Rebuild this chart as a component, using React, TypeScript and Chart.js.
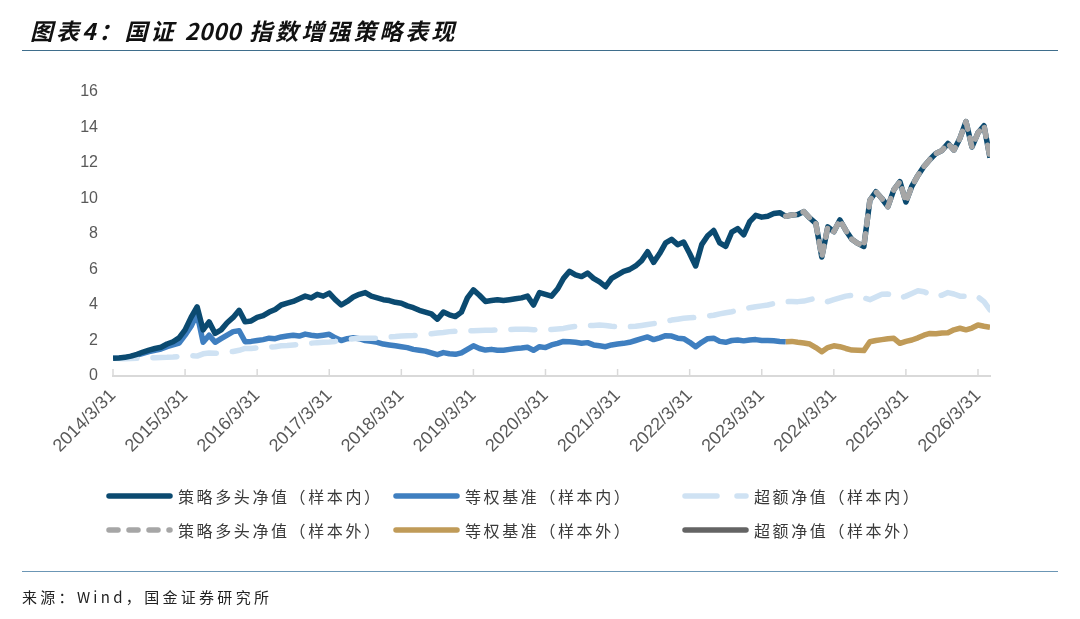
import React, { useEffect, useRef } from 'react';
import { Chart, registerables } from 'chart.js';

Chart.register(...registerables);

// months since 2014/3/31, one point per month end
const OUT_START = 112;

const strategyIn = [
  1.0, 1.02, 1.05, 1.12, 1.22, 1.35, 1.46, 1.55, 1.62, 1.8, 1.93, 2.15,
  2.6, 3.3, 3.9, 2.6, 3.05, 2.4, 2.6, 3.0, 3.3, 3.7, 3.05, 3.1,
  3.3, 3.4, 3.6, 3.75, 4.0, 4.1, 4.2, 4.35, 4.5, 4.4, 4.6, 4.5,
  4.67, 4.3, 4.0, 4.2, 4.45, 4.6, 4.7, 4.5, 4.4, 4.3, 4.25, 4.15,
  4.1, 3.95, 3.85, 3.7, 3.6, 3.5, 3.2, 3.6, 3.45, 3.35, 3.6, 4.4,
  4.85, 4.55, 4.2, 4.25, 4.3, 4.25, 4.3, 4.35, 4.4, 4.5, 4.0, 4.7,
  4.6, 4.5, 4.9, 5.5, 5.9, 5.7, 5.6, 5.8, 5.5, 5.3, 5.03, 5.5,
  5.7, 5.9, 6.0, 6.2, 6.5, 7.0, 6.4, 6.9, 7.5, 7.7, 7.4, 7.55,
  6.9, 6.2, 7.4, 7.9, 8.2, 7.5, 7.3, 8.1, 8.3, 7.95, 8.7, 9.05,
  8.95, 9.0, 9.15, 9.2,
];

const strategyOut = [
  9.0, 9.07, 9.1, 9.26, 8.9, 8.6, 6.7, 8.4, 8.13, 8.79, 8.2, 7.7,
  7.47, 7.3, 9.9, 10.38, 10.0, 9.54, 10.5, 10.95, 9.8, 10.7, 11.3, 11.8,
  12.2, 12.54, 12.7, 13.1, 12.73, 13.4, 14.33, 12.9, 13.7, 14.1, 12.3,
];

const benchIn = [
  1.0, 1.0, 1.03, 1.1, 1.18, 1.28, 1.37, 1.45, 1.52, 1.65, 1.75, 1.85,
  2.3, 2.8, 3.5, 1.9, 2.3, 1.9, 2.1, 2.3, 2.5, 2.55, 1.93, 1.95,
  2.0, 2.05, 2.13, 2.1, 2.2, 2.25, 2.3, 2.25, 2.36, 2.3, 2.25, 2.3,
  2.35, 2.15, 2.0, 2.1, 2.15, 2.1, 2.0, 1.95, 1.9, 1.8, 1.75, 1.7,
  1.65, 1.6, 1.5, 1.45, 1.4, 1.3, 1.2, 1.32, 1.25, 1.22, 1.3, 1.5,
  1.7, 1.55, 1.46, 1.5, 1.45, 1.45, 1.5, 1.55, 1.58, 1.62, 1.45, 1.65,
  1.6, 1.75, 1.84, 1.95, 1.93, 1.9, 1.85, 1.88, 1.75, 1.7, 1.65, 1.75,
  1.8, 1.84, 1.9, 2.0, 2.1, 2.2, 2.05, 2.15, 2.27, 2.25, 2.13, 2.1,
  1.9, 1.65, 1.9, 2.1, 2.13, 1.95, 1.9, 2.0, 2.03, 1.98, 2.03, 2.05,
  2.0, 2.0, 1.98, 1.95, 1.93,
];

const benchOut = [
  1.93, 1.95, 1.9, 1.86, 1.8, 1.6, 1.37, 1.6, 1.7, 1.65, 1.55, 1.46,
  1.45, 1.43, 1.93, 2.0, 2.05, 2.1, 2.12, 1.84, 1.95, 2.03, 2.15, 2.3,
  2.4, 2.38, 2.42, 2.44, 2.6, 2.69, 2.6, 2.7, 2.87, 2.8, 2.74,
];

const excessIn = [
  1.0, 0.98, 0.97, 0.98, 1.0, 1.0, 1.02, 1.03, 1.04, 1.05, 1.07, 1.1,
  1.12, 1.15, 1.12, 1.25, 1.3, 1.28, 1.3, 1.35, 1.38, 1.45, 1.55, 1.55,
  1.58, 1.6, 1.63, 1.65, 1.7, 1.72, 1.75, 1.78, 1.8, 1.85, 1.88, 1.9,
  1.92, 1.95, 2.0, 2.05, 2.1, 2.12, 2.13, 2.12, 2.13, 2.15, 2.2, 2.22,
  2.25, 2.27, 2.28, 2.3, 2.33, 2.38, 2.42, 2.45, 2.5, 2.52, 2.55, 2.55,
  2.55, 2.57, 2.58, 2.58, 2.6, 2.6, 2.62, 2.63, 2.63, 2.63, 2.6, 2.63,
  2.63, 2.62, 2.65, 2.68, 2.75, 2.8, 2.82, 2.85, 2.85, 2.87, 2.85, 2.8,
  2.78, 2.78, 2.78, 2.8, 2.85, 2.9, 2.95, 3.0, 3.08, 3.15, 3.2, 3.25,
  3.28, 3.3, 3.34, 3.38, 3.42, 3.5, 3.56, 3.62, 3.7, 3.78, 3.85, 3.9,
  3.95, 4.0, 4.08, 4.15, 4.19, 4.2, 4.19, 4.22, 4.3, 4.38, 4.3, 4.19,
  4.3, 4.4, 4.5, 4.55, 4.56, 4.4, 4.3, 4.45, 4.6, 4.62, 4.5, 4.38,
  4.5, 4.65, 4.8, 4.75, 4.6, 4.47, 4.55, 4.7, 4.62, 4.5, 4.5, 4.56,
  4.45, 4.19, 3.72,
];

// not visible in the picture, legend only
const excessOut: number[] = [];

const LAST_MONTH = 146;
const xTicks = [0, 12, 24, 36, 48, 60, 72, 84, 96, 108, 120, 132, 144];
const yTicks = [0, 2, 4, 6, 8, 10, 12, 14, 16];

const NAVY = '#0b4a70';
const BLUE = '#3f7fc0';
const LIGHT = '#cfe2f3';
const GREY = '#a6a6a6';
const GOLD = '#c09b58';
const DARK = '#646464';
const AXIS = '#d9d9d9';
const TICK_TEXT = '#595959';

const toPoints = (vals: number[], start: number) => vals.map((v, i) => ({ x: start + i, y: v }));

const innerTicks = {
  id: 'innerTicks',
  beforeDatasetsDraw(chart: any) {
    const xs = chart.scales.x;
    const ctx = chart.ctx;
    const bottom = chart.chartArea.bottom;
    ctx.save();
    ctx.strokeStyle = AXIS;
    ctx.lineWidth = 1.5;
    xs.ticks.forEach((t: any) => {
      const px = xs.getPixelForValue(t.value);
      ctx.beginPath();
      ctx.moveTo(px, bottom);
      ctx.lineTo(px, bottom - 7);
      ctx.stroke();
    });
    ctx.restore();
  },
};

const LegendItem = ({ x, y, label, kind }: { x: number; y: number; label: string; kind: string }) => {
  let line: React.ReactNode;
  if (kind === 'light') {
    line = <line x1={3} y1={4} x2={64} y2={4} stroke={LIGHT} strokeWidth={5.5} strokeLinecap="round" strokeDasharray="32 20" />;
  } else if (kind === 'grey') {
    line = <line x1={3} y1={4} x2={64} y2={4} stroke={GREY} strokeWidth={5.5} strokeLinecap="round" strokeDasharray="9 11" />;
  } else {
    line = <line x1={3} y1={4} x2={64} y2={4} stroke={kind} strokeWidth={5.5} strokeLinecap="round" />;
  }
  return (
    <div style={{ position: 'absolute', left: x, top: y - 11, height: 22, display: 'flex', alignItems: 'center' }}>
      <svg width={68} height={8} style={{ display: 'block' }}>{line}</svg>
      <span style={{ marginLeft: 4, fontSize: 16, letterSpacing: 2.6, color: '#3a3a3a', fontFamily: '"Noto Sans CJK SC", sans-serif', whiteSpace: 'nowrap' }}>{label}</span>
    </div>
  );
};

const App: React.FC = () => {
  const canvasRef = useRef<HTMLCanvasElement>(null);
  const chartRef = useRef<Chart | null>(null);

  useEffect(() => {
    const ctx = canvasRef.current?.getContext('2d');
    if (!ctx) return;
    chartRef.current?.destroy();
    const base = { pointRadius: 0, tension: 0, borderWidth: 5.5, borderJoinStyle: 'round' as const, fill: false };
    chartRef.current = new Chart(ctx, {
      type: 'line',
      data: {
        datasets: [
          { ...base, label: '等权基准（样本内）', data: toPoints(benchIn, 0), borderColor: BLUE, order: 6 },
          { ...base, label: '等权基准（样本外）', data: toPoints(benchOut, OUT_START), borderColor: GOLD, order: 5 },
          { ...base, label: '超额净值（样本内）', data: toPoints(excessIn, 0), borderColor: LIGHT, borderDash: [24, 16], borderCapStyle: 'round', order: 4 },
          { ...base, label: '超额净值（样本外）', data: toPoints(excessOut, OUT_START), borderColor: DARK, order: 3 },
          { ...base, label: '策略多头净值（样本内）', data: toPoints([...strategyIn, ...strategyOut], 0), borderColor: NAVY, order: 2 },
          { ...base, label: '策略多头净值（样本外）', data: toPoints(strategyOut, OUT_START), borderColor: GREY, borderDash: [9, 9], borderCapStyle: 'round', order: 1 },
        ],
      },
      options: {
        animation: false,
        responsive: true,
        maintainAspectRatio: false,
        layout: { padding: { top: 92, right: 90, left: 0, bottom: 0 } },
        plugins: { legend: { display: false }, tooltip: { enabled: false } },
        scales: {
          x: {
            type: 'linear',
            min: 0,
            max: LAST_MONTH,
            afterFit: (s: any) => { s.height = 619 - 376; },
            afterBuildTicks: (s: any) => { s.ticks = xTicks.map(v => ({ value: v })); },
            grid: { display: false, drawTicks: false },
            border: { display: true, color: AXIS, width: 2 },
            ticks: {
              autoSkip: false,
              maxRotation: 45,
              minRotation: 45,
              padding: 9,
              color: TICK_TEXT,
              font: { family: '"Liberation Sans", Arial, sans-serif', size: 18 },
              callback: (v: any) => `${2014 + Number(v) / 12}/3/31`,
            },
          },
          y: {
            min: 0,
            max: 16,
            afterFit: (s: any) => { s.width = 113; },
            afterBuildTicks: (s: any) => { s.ticks = yTicks.map(v => ({ value: v })); },
            grid: { display: false, drawTicks: false },
            border: { display: false },
            ticks: {
              padding: 15,
              color: TICK_TEXT,
              font: { family: '"Liberation Sans", Arial, sans-serif', size: 16 },
            },
          },
        },
      },
      plugins: [innerTicks],
    });
    return () => {
      chartRef.current?.destroy();
      chartRef.current = null;
    };
  }, []);

  return (
    <div style={{ position: 'absolute', left: 0, top: 0, width: 1080, height: 619, background: '#fff', overflow: 'hidden' }}>
      <div style={{ position: 'absolute', left: 0, top: 0, width: 1080, height: 619 }}>
        <canvas ref={canvasRef}></canvas>
      </div>
      <div style={{ position: 'absolute', left: 30, top: 13, fontSize: 23, fontWeight: 'bold', fontStyle: 'italic', letterSpacing: 3, color: '#111', fontFamily: '"Noto Sans CJK SC", sans-serif', whiteSpace: 'nowrap' }}>
        图表4：国证 <span style={{ letterSpacing: 0.5 }}>2000</span> 指数增强策略表现
      </div>
      <div style={{ position: 'absolute', left: 22, top: 50, width: 1036, height: 0, borderTop: '1.5px solid #3f6e8c' }} />
      <LegendItem x={106} y={496} label="策略多头净值（样本内）" kind={NAVY} />
      <LegendItem x={393} y={496} label="等权基准（样本内）" kind={BLUE} />
      <LegendItem x={682} y={496} label="超额净值（样本内）" kind="light" />
      <LegendItem x={106} y={530} label="策略多头净值（样本外）" kind="grey" />
      <LegendItem x={393} y={530} label="等权基准（样本外）" kind={GOLD} />
      <LegendItem x={682} y={530} label="超额净值（样本外）" kind={DARK} />
      <div style={{ position: 'absolute', left: 22, top: 571, width: 1036, height: 0, borderTop: '1.5px solid #6b96b5' }} />
      <div style={{ position: 'absolute', left: 22, top: 586, fontSize: 15, letterSpacing: 3.3, color: '#222', fontFamily: '"Noto Sans CJK SC", sans-serif', whiteSpace: 'nowrap' }}>
        来源：Wind，国金证券研究所
      </div>
    </div>
  );
};

export default App;
